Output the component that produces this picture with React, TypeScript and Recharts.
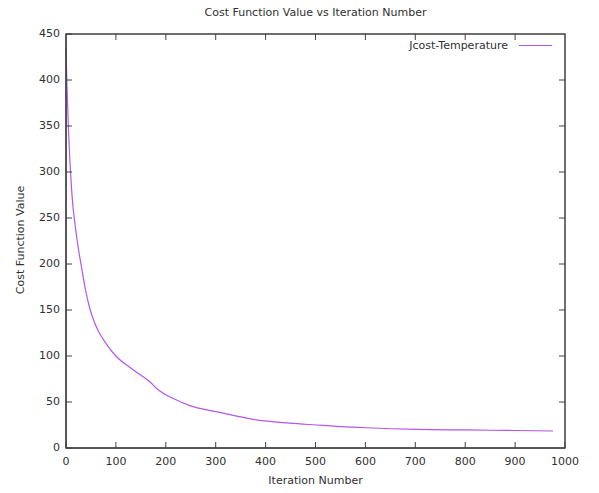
import { LineChart, Line, XAxis, YAxis } from "recharts";

const iterations = [0, 2, 5, 8, 11, 14, 17, 21, 25, 31, 38, 47, 56, 64, 81, 100, 127, 145, 161, 170, 181, 195, 214, 248, 301, 340, 382, 448, 502, 550, 602, 702, 803, 900, 976];
const costValues = [434, 392, 345, 310, 283, 262, 248, 231, 216, 197, 175, 153, 138, 128, 113, 100, 88, 81, 75, 71, 65, 59.5, 54, 46, 39.5, 35, 30.5, 27, 25, 23.3, 22, 20.3, 19.6, 19, 18.5];
const xTicks = [0, 100, 200, 300, 400, 500, 600, 700, 800, 900, 1000];
const yTicks = [0, 50, 100, 150, 200, 250, 300, 350, 400, 450];

const data = iterations.map((it, i) => ({ it, cost: costValues[i] }));

const FONT = "DejaVu Sans";
const AXIS = "#404040";
const TEXT = "#303030";
const LINE = "#b455ec";

// plot frame (gnuplot draws a full box with mirrored ticks)
const W = 599;
const H = 493;
const M = { top: 34, right: 34, bottom: 0, left: 6 };
const PLOT_TOP = M.top;
const PLOT_RIGHT = W - M.right;

const BottomTick = ({ x, y, payload }: any) => (
  <g>
    {/* whole frame drawn once, from the first tick */}
    {payload.value === 0 && (
      <rect
        x={x}
        y={PLOT_TOP}
        width={PLOT_RIGHT - x}
        height={y - 8 - PLOT_TOP}
        fill="none"
        stroke={AXIS}
        strokeWidth={1.5}
      />
    )}
    <line x1={x} x2={x} y1={y - 8} y2={y - 14} stroke={AXIS} />
    {payload.value > 0 && payload.value < 1000 && (
      <line x1={x} x2={x} y1={PLOT_TOP} y2={PLOT_TOP + 6} stroke={AXIS} />
    )}
    <text x={x} y={y + 6} textAnchor="middle" dominantBaseline="middle" fontSize={11} fontFamily={FONT} fill={TEXT}>
      {payload.value}
    </text>
  </g>
);

const LeftTick = ({ x, y, payload }: any) => (
  <g>
    <line x1={x + 6} x2={x + 12} y1={y} y2={y} stroke={AXIS} />
    {payload.value > 0 && payload.value < 450 && (
      <line x1={PLOT_RIGHT} x2={PLOT_RIGHT - 6} y1={y} y2={y} stroke={AXIS} />
    )}
    <text x={x} y={y} textAnchor="end" dominantBaseline="middle" fontSize={11} fontFamily={FONT} fill={TEXT}>
      {payload.value}
    </text>
  </g>
);

const label = { position: "absolute" as const, fontFamily: FONT, fontSize: 11, color: TEXT };

export default function App() {
  return (
    <div style={{ position: "absolute", left: 0, top: 0, width: W, height: H, background: "#fff" }}>
      <div style={{ ...label, top: 6, left: 66, width: 499, textAlign: "center" }}>
        Cost Function Value vs Iteration Number
      </div>
      <div style={{ ...label, top: 474, left: 66, width: 499, textAlign: "center" }}>
        Iteration Number
      </div>
      <div
        style={{
          ...label,
          left: 20,
          top: 240,
          transform: "translate(-50%, -50%) rotate(-90deg)",
          whiteSpace: "nowrap",
        }}
      >
        Cost Function Value
      </div>
      <LineChart width={W} height={H} data={data} margin={M}>
        <XAxis
          dataKey="it"
          type="number"
          domain={[0, 1000]}
          ticks={xTicks}
          height={45}
          tickSize={0}
          tickMargin={8}
          tickLine={false}
          axisLine={{ stroke: AXIS }}
          tick={<BottomTick />}
        />
        <YAxis
          type="number"
          domain={[0, 450]}
          ticks={yTicks}
          width={60}
          tickSize={0}
          tickMargin={6}
          tickLine={false}
          axisLine={{ stroke: AXIS }}
          tick={<LeftTick />}
        />
        <Line
          type="monotone"
          dataKey="cost"
          name="Jcost-Temperature"
          stroke={LINE}
          strokeWidth={1.2}
          dot={false}
          isAnimationActive={false}
        />
      </LineChart>
      <div style={{ ...label, top: 39, right: 47, display: "flex", alignItems: "center" }}>
        <span>Jcost-Temperature</span>
        <span style={{ display: "inline-block", width: 33, borderTop: `1.2px solid ${LINE}`, marginLeft: 11 }} />
      </div>
    </div>
  );
}
